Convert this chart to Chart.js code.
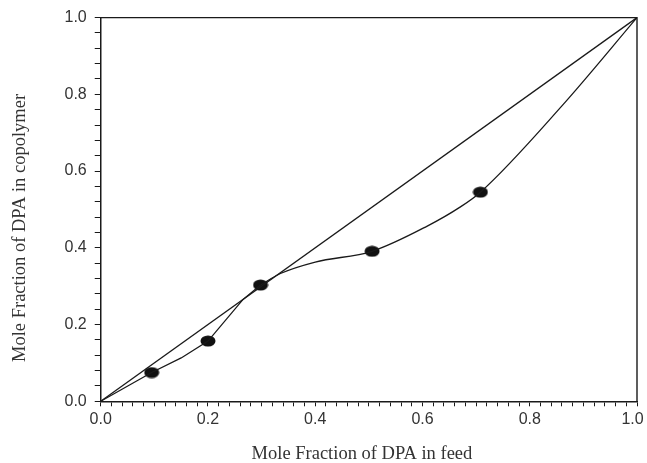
<!DOCTYPE html>
<html>
<head>
<meta charset="utf-8">
<script src="https://cdn.jsdelivr.net/npm/chart.js@4"></script>
<style>
  html, body { margin: 0; padding: 0; background: #fff; }
  #wrap { width: 647px; height: 463px; }
</style>
</head>
<body>
<div id="wrap"><canvas id="chart"></canvas></div>
<script>
// measured points
const feedX    = [0.095, 0.20, 0.298, 0.506, 0.708];
const copolyY  = [0.075, 0.157, 0.303, 0.391, 0.545];

// fitted curve (low end is near-straight pieces)
const lowX  = [0, 0.095, 0.15, 0.20, 0.265, 0.298];
const lowY  = [0, 0.075, 0.113, 0.157, 0.265, 0.303];
const highX = [0.298, 0.335, 0.40, 0.506, 0.608, 0.67, 0.708, 0.86, 1.0];
const highY = [0.303, 0.333, 0.363, 0.391, 0.456, 0.506, 0.545, 0.77, 1.0];

// x = y reference line
const diagX = [0, 1];
const diagY = [0, 1];

const INK = "#1a1a1a";
const TICK_TEXT = "#333";

function toXY(xs, ys) {
  return xs.map((x, i) => ({ x: x, y: ys[i] }));
}

function blob() {
  const c = document.createElement("canvas");
  c.width = 16; c.height = 12;
  const g = c.getContext("2d");
  g.fillStyle = "#111";
  g.beginPath();
  g.ellipse(8, 6, 7.5, 5.5, 0, 0, Math.PI * 2);
  g.fill();
  return c;
}

const frame = {
  id: "frame",
  afterDraw(chart) {
    const a = chart.chartArea, ctx = chart.ctx;
    ctx.save();
    ctx.strokeStyle = INK;
    ctx.lineWidth = 1.4;
    ctx.beginPath();
    ctx.moveTo(a.left, a.top);
    ctx.lineTo(a.right, a.top);
    ctx.lineTo(a.right, a.bottom);
    ctx.stroke();
    ctx.restore();
  }
};

function lineSet(xs, ys, smooth) {
  return {
    data: toXY(xs, ys),
    showLine: true, borderColor: INK, borderWidth: 1.3,
    cubicInterpolationMode: smooth ? "monotone" : "default",
    tension: 0,
    pointRadius: 0, fill: false,
  };
}

new Chart(document.getElementById("chart"), {
  type: "scatter",
  data: {
    datasets: [
      lineSet(diagX, diagY, false),
      lineSet(lowX, lowY, false),
      lineSet(highX, highY, true),
      {
        data: toXY(feedX, copolyY),
        showLine: false,
        pointStyle: blob(),
        pointRadius: 7,
      },
    ],
  },
  options: {
    responsive: true,
    maintainAspectRatio: false,
    animation: false,
    layout: { padding: { top: 10, right: 10, left: 11, bottom: 0 } },
    plugins: { legend: { display: false }, tooltip: { enabled: false } },
    scales: {
      x: {
        type: "linear", min: 0, max: 1,
        afterFit: s => { s.paddingRight = 0; },
        border: { display: true, color: INK, width: 1.5 },
        grid: { drawOnChartArea: false, drawTicks: true, tickLength: 5, color: INK, lineWidth: 1 },
        ticks: {
          stepSize: 0.02, autoSkip: false, maxRotation: 0, padding: 4,
          color: TICK_TEXT, font: { family: "Liberation Sans", size: 16 },
          callback: (v, i) => {
            if (i % 10 !== 0) return "";
            const s = (i / 50).toFixed(1);
            return i === 50 ? s + "  " : s;
          },
        },
        title: {
          display: true, text: "Mole Fraction of DPA in feed   ",
          color: TICK_TEXT, font: { family: "Liberation Serif", size: 18.5, lineHeight: 1 },
          padding: { top: 11, bottom: 0 },
        },
      },
      y: {
        type: "linear", min: 0, max: 1,
        border: { display: true, color: INK, width: 1.5 },
        grid: { drawOnChartArea: false, drawTicks: true, tickLength: 6, color: INK, lineWidth: 1 },
        ticks: {
          stepSize: 0.04, autoSkip: false, padding: 8,
          color: TICK_TEXT, font: { family: "Liberation Sans", size: 16 },
          callback: (v, i) => i % 5 === 0 ? (i / 25).toFixed(1) : "",
        },
        title: {
          display: true, text: "Mole Fraction of DPA in copolymer        ",
          color: TICK_TEXT, font: { family: "Liberation Serif", size: 18.5, lineHeight: 1 },
          padding: { top: 0, bottom: 27 },
        },
      },
    },
  },
  plugins: [frame],
});
</script>
</body>
</html>
